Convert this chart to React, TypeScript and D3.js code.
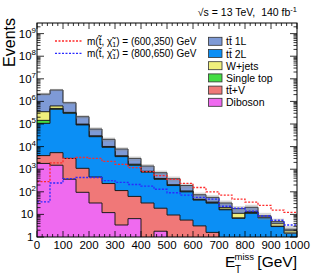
import { useEffect, useRef } from 'react';
import * as d3 from 'd3';

// E_T^miss bin edges [GeV]
const binEdges = [0, 50, 100, 150, 200, 250, 300, 350, 400, 450, 500, 550, 600, 650, 700, 750, 800, 850, 900, 950, 1000];

// background yields per bin (stacked bottom -> top)
const diboson = [1800, 1500, 360, 95, 32, 12, 3.4, 6.5, 0, 1.8, 0, 0, 0, 0, 0, 0, 0, 0, 0, 0];
const ttV = [2200, 3900, 2640, 1000, 420, 220, 110, 56, 32, 17, 9.4, 5.6, 3.1, 1.6, 0, 0, 0, 0, 0, 0];
const tt2L = [103000, 445000, 297000, 90000, 27000, 9100, 3500, 1440, 710, 340, 180, 94, 40, 30, 16, 6.7, 11.2, 7, 2.9, 1.46];
const singleTop = [38000, 40000, 12000, 4000, 1200, 400, 150, 60, 30, 14, 7, 4, 1.5, 1.5, 0.8, 0.3, 1.0, 0.3, 0.1, 0.05];
const wJets = [205000, 140000, 15000, 4000, 1200, 400, 150, 100, 40, 18, 9, 5, 2, 2, 3, 4.2, 0.8, 0.3, 1.0, 0.4];
const tt1L = [1750000, 2570000, 543000, 111000, 30000, 10900, 3900, 1340, 570, 308, 174, 81, 27.5, 21.5, 12.2, 6.8, 7.6, 1.1, 0.8, 0.3];

// relative uncertainty on the total background
const bkgUncertainty = [0.15, 0.12, 0.15, 0.18, 0.2, 0.2, 0.2, 0.22, 0.22, 0.24, 0.25, 0.25, 0.25, 0.25, 0.28, 0.3, 0.3, 0.35, 0.35, 0.4];

// signal points
const signal600 = [280, 1900, 3000, 3300, 3000, 2200, 1650, 1170, 780, 517, 357, 237, 155, 100, 72, 47, 35, 25, 15.6, 12.4];
const signal800 = [36, 245, 380, 430, 430, 310, 260, 210, 180, 130, 91, 71, 57, 47, 23, 18.7, 14, 8.5, 5.5, 3.4];

const xTickLabels = [0, 100, 200, 300, 400, 500, 600, 700, 800, 900, 1000];
const yDecades = [0, 1, 2, 3, 4, 5, 6, 7, 8, 9];
const legendOrder = ['tt\u0304 1L', 'tt\u0304 2L', 'W+jets', 'Single top', 'tt\u0304+V', 'Diboson'];

const FONT = '"Liberation Sans", Arial, Helvetica, sans-serif';

export default function App() {
  const svgRef = useRef<SVGSVGElement | null>(null);

  useEffect(() => {
    if (!svgRef.current) return;
    document.body.style.margin = '0';

    const svg = d3.select(svgRef.current);
    svg.selectAll('*').remove();

    const W = 315;
    const H = 276;
    const margin = { top: 23, right: 18, bottom: 39, left: 37 };
    const width = W - margin.left - margin.right;
    const height = H - margin.top - margin.bottom;

    const x = d3.scaleLinear().domain([0, 1000]).range([margin.left, margin.left + width]);
    const y = d3.scaleLog().domain([1, Math.pow(10, 9.47)]).range([margin.top + height, margin.top]);

    svg.attr('width', W).attr('height', H).style('font-family', FONT);

    svg.append('defs').append('clipPath').attr('id', 'plotclip')
      .append('rect')
      .attr('x', margin.left).attr('y', margin.top)
      .attr('width', width).attr('height', height);

    const plot = svg.append('g').attr('clip-path', 'url(#plotclip)');

    const stack = [
      { name: 'Diboson', values: diboson, color: '#ef6aef' },
      { name: 'tt\u0304+V', values: ttV, color: '#f07878' },
      { name: 'tt\u0304 2L', values: tt2L, color: '#0b8ff5' },
      { name: 'Single top', values: singleTop, color: '#44dd44' },
      { name: 'W+jets', values: wJets, color: '#f0f07c' },
      { name: 'tt\u0304 1L', values: tt1L, color: '#7e9ad6' },
    ];

    // cumulative sums bottom-up
    const cumulative: number[][] = [];
    stack.forEach((s, k) => {
      cumulative.push(s.values.map((v, i) => v + (k > 0 ? cumulative[k - 1][i] : 0)));
    });

    type Pt = { x: number; v: number };
    const toPts = (vals: number[]): Pt[] =>
      binEdges.map((e, i) => ({ x: e, v: vals[Math.min(i, vals.length - 1)] }));

    const floor = 1e-3;
    const area = d3.area<Pt>()
      .x(d => x(d.x))
      .y0(y(floor))
      .y1(d => y(Math.max(d.v, floor)))
      .curve(d3.curveStepAfter);
    const line = d3.line<Pt>()
      .x(d => x(d.x))
      .y(d => y(Math.max(d.v, floor)))
      .curve(d3.curveStepAfter);

    // draw totals first, then each sub-stack on top (THStack style)
    for (let k = stack.length - 1; k >= 0; k--) {
      const pts = toPts(cumulative[k]);
      plot.append('path').attr('d', area(pts)).attr('fill', stack[k].color);
      plot.append('path').attr('d', line(pts))
        .attr('fill', 'none').attr('stroke', '#1c1c1c').attr('stroke-width', 1);
    }

    // uncertainty band on total
    const total = cumulative[stack.length - 1];
    plot.selectAll('.unc')
      .data(total)
      .enter()
      .append('rect')
      .attr('class', 'unc')
      .attr('x', (_, i) => x(binEdges[i]))
      .attr('width', (_, i) => x(binEdges[i + 1]) - x(binEdges[i]))
      .attr('y', (d, i) => y(d * (1 + bkgUncertainty[i])))
      .attr('height', (d, i) => y(d * (1 - bkgUncertainty[i])) - y(d * (1 + bkgUncertainty[i])))
      .attr('fill', '#8c8c8c')
      .attr('opacity', 0.35);

    // signal lines
    const signals = [
      { values: signal600, color: '#ff2a2a', label: '(600,350)' },
      { values: signal800, color: '#2a2aff', label: '(800,650)' },
    ];
    signals.forEach(s => {
      plot.append('path').attr('d', line(toPts(s.values)))
        .attr('fill', 'none').attr('stroke', s.color)
        .attr('stroke-width', 1.3).attr('stroke-dasharray', '2,1.5');
    });

    // frame
    svg.append('rect')
      .attr('x', margin.left).attr('y', margin.top)
      .attr('width', width).attr('height', height)
      .attr('fill', 'none').attr('stroke', '#000').attr('stroke-width', 1);

    const ticks = svg.append('g').attr('stroke', '#000').attr('stroke-width', 0.8);
    const yBot = margin.top + height;
    const yTop = margin.top;
    const xL = margin.left;
    const xR = margin.left + width;

    // x ticks (major every 100, minor every 20)
    for (let g = 0; g <= 1000; g += 20) {
      const len = g % 100 === 0 ? 6 : 3;
      const px = x(g);
      ticks.append('line').attr('x1', px).attr('x2', px).attr('y1', yBot).attr('y2', yBot - len);
      ticks.append('line').attr('x1', px).attr('x2', px).attr('y1', yTop).attr('y2', yTop + len);
    }

    // y ticks (log)
    const [, yMax] = y.domain();
    yDecades.forEach(dec => {
      for (let m = 1; m <= 9; m++) {
        const v = m * Math.pow(10, dec);
        if (v > yMax) continue;
        const len = m === 1 ? 7 : 3.5;
        const py = y(v);
        ticks.append('line').attr('x1', xL).attr('x2', xL + len).attr('y1', py).attr('y2', py);
        ticks.append('line').attr('x1', xR).attr('x2', xR - len).attr('y1', py).attr('y2', py);
      }
    });

    // x labels
    svg.append('g').selectAll('text')
      .data(xTickLabels)
      .enter()
      .append('text')
      .attr('x', d => x(d))
      .attr('y', 249)
      .attr('text-anchor', 'middle')
      .attr('font-size', 11.5)
      .text(d => d);

    // y labels
    yDecades.forEach(dec => {
      const py = y(Math.pow(10, dec)) + 4;
      const t = svg.append('text').attr('y', py).attr('font-size', 11.5).attr('text-anchor', 'end');
      if (dec === 0) {
        t.attr('x', 33.5).text('1');
      } else if (dec === 1) {
        t.attr('x', 33.5).text('10');
      } else {
        t.attr('x', 36);
        t.append('tspan').text('10');
        t.append('tspan').attr('dy', -5).attr('font-size', 8).text(dec);
      }
    });

    // axis titles
    svg.append('text')
      .attr('transform', 'rotate(-90)')
      .attr('x', -18)
      .attr('y', 15)
      .attr('text-anchor', 'end')
      .attr('font-size', 16)
      .text('Events');

    svg.append('text').attr('x', 225).attr('y', 267).attr('font-size', 15.5).text('E');
    svg.append('text').attr('x', 234.5).attr('y', 259.5).attr('font-size', 9.5).text('miss');
    svg.append('text').attr('x', 235).attr('y', 273).attr('font-size', 10).text('T');
    svg.append('text').attr('x', 297).attr('y', 267).attr('font-size', 15.5)
      .attr('text-anchor', 'end').text('[GeV]');

    // top label
    const title = svg.append('text').attr('x', 297).attr('y', 16)
      .attr('text-anchor', 'end').attr('font-size', 10.5);
    title.append('tspan').text('\u221As = 13 TeV,\u00A0 140 fb');
    title.append('tspan').attr('dy', -4).attr('font-size', 7.5).text('-1');

    // signal legend
    signals.forEach((s, i) => {
      const ly = 41 + i * 12.3;
      svg.append('line')
        .attr('x1', 55).attr('x2', 82).attr('y1', ly).attr('y2', ly)
        .attr('stroke', s.color).attr('stroke-width', 1.3).attr('stroke-dasharray', '2,1.5');
      const t = svg.append('text').attr('x', 87).attr('y', ly + 3.5).attr('font-size', 10);
      t.append('tspan').text('m(t\u0303, \u03C7\u0303');
      t.append('tspan').attr('dy', 2.5).attr('font-size', 7).text('1');
      t.append('tspan').attr('dy', -2.5).text(`) = ${s.label} GeV`);
    });

    // background legend
    legendOrder.forEach((name, i) => {
      const s = stack.find(e => e.name === name)!;
      const cy = 41.3 + i * 12.2;
      svg.append('rect')
        .attr('x', 208.5).attr('y', cy - 4).attr('width', 13.5).attr('height', 8)
        .attr('fill', s.color).attr('stroke', '#333').attr('stroke-width', 0.8);
      svg.append('text').attr('x', 226).attr('y', cy + 4)
        .attr('font-size', 10.5).text(s.name);
    });
  }, []);

  return <svg ref={svgRef} style={{ display: 'block' }} />;
}
